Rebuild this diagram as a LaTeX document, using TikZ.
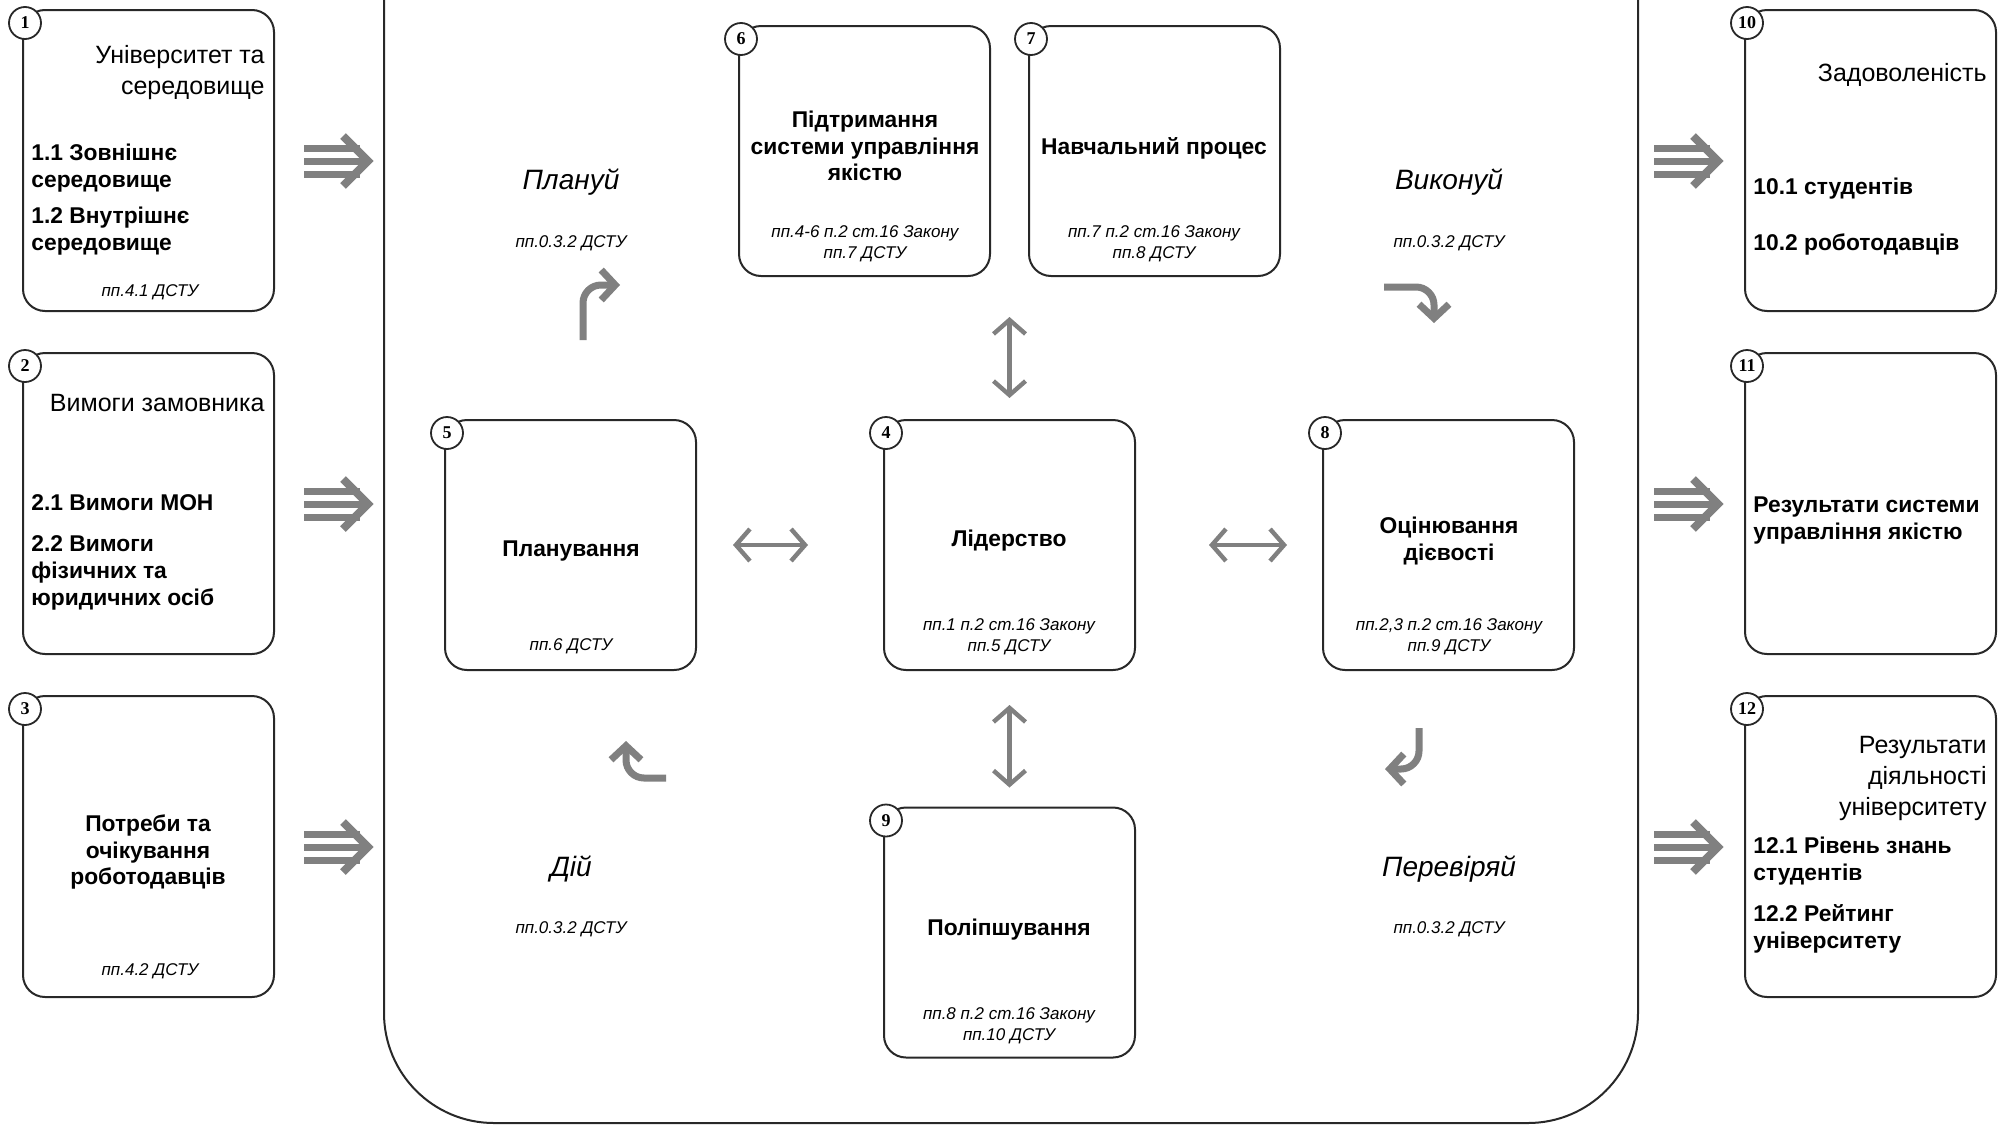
\documentclass[tikz,border=0pt]{standalone}
\usepackage{fontspec}
\setmainfont{Liberation Sans}
\newfontfamily\numfont{Liberation Serif}
\usetikzlibrary{arrows.meta}
\definecolor{arrgray}{RGB}{128,128,128}
\definecolor{linedark}{RGB}{40,40,40}
\begin{document}
\begin{tikzpicture}[x=0.5pt,y=-0.5pt,
  box/.style={draw=linedark, line width=1pt, rounded corners=11pt, minimum width=125.5pt, inner sep=0pt, outer sep=0pt},
  outerbox/.style={box, minimum height=150.5pt},
  innerbox/.style={box, minimum height=125pt},
  numc/.style={circle, draw=linedark, fill=white, line width=0.9pt, minimum size=16pt, inner sep=0pt, font=\numfont\bfseries\fontsize{9}{10}\selectfont},
  headtxt/.style={font=\fontsize{12.5}{15.5}\selectfont, align=right, inner sep=0pt, anchor=east},
  itemtxt/.style={font=\bfseries\fontsize{11.4}{13.5}\selectfont, align=left, inner sep=0pt, anchor=west},
  titletxt/.style={font=\bfseries\fontsize{11.4}{13.3}\selectfont, align=center, inner sep=0pt},
  reftxt/.style={font=\itshape\fontsize{8.5}{10.3}\selectfont, align=center, inner sep=0pt},
  pdcatxt/.style={font=\itshape\fontsize{14}{16}\selectfont, inner sep=0pt},
  dblarr/.style={draw=arrgray, line width=2.2pt, {Straight Barb[length=7pt,width=16pt]}-{Straight Barb[length=7pt,width=16pt]}},
  bendarr/.style={draw=arrgray, line width=3.5pt, rounded corners=9pt, -{Straight Barb[length=7pt,width=15pt]}},
  tri/.pic={
    \draw[arrgray, line width=3.5pt] (0,-13) -- (56,-13) (0,0) -- (60,0) (0,13) -- (56,13);
    \draw[arrgray, line width=4pt] (39,-25) -- (64,0) -- (39,25);
  }
]
\useasboundingbox (0,0) rectangle (2006,1125);
\fill[white] (0,0) rectangle (2006,1125);
\begin{scope}
  \clip (0,0) rectangle (2006,1125);
  \draw[draw=linedark, line width=1pt, rounded corners=55pt] (384,-150) rectangle (1638,1123);
\end{scope}

% boxes
\node[outerbox] (b1) at (148.5,160.5) {};
\node[outerbox] (b2) at (148.5,503.5) {};
\node[outerbox] (b3) at (148.5,846.5) {};
\node[outerbox] (b10) at (1870.5,160.5) {};
\node[outerbox] (b11) at (1870.5,503.5) {};
\node[outerbox] (b12) at (1870.5,846.5) {};
\node[innerbox] (b6) at (864.5,151) {};
\node[innerbox] (b7) at (1154.5,151) {};
\node[innerbox] (b5) at (570.5,545) {};
\node[innerbox] (b4) at (1009.5,545) {};
\node[innerbox] (b8) at (1448.5,545) {};
\node[innerbox] (b9) at (1009.5,932.5) {};

\foreach \b/\n in {b1/1,b2/2,b3/3,b4/4,b5/5,b6/6,b7/7,b8/8,b9/9,b10/10,b11/11,b12/12}
  \node[numc] (c\n) at ([shift={(2,13)}]\b.north west) {\n};

% box 1
\node[headtxt] (t1h) at (265,73) {Університет та\\середовище};
\node[itemtxt] (t1a) at (31,168) {1.1 Зовнішнє\\середовище};
\node[itemtxt] (t1b) at (31,231) {1.2 Внутрішнє\\середовище};
\node[reftxt] (t1r) at (150,292) {пп.4.1 ДСТУ};
% box 2
\node[headtxt] (t2h) at (265,403) {Вимоги замовника};
\node[itemtxt] (t2a) at (31,503) {2.1 Вимоги МОН};
\node[itemtxt] (t2b) at (31,573) {2.2 Вимоги\\фізичних та\\юридичних осіб};
% box 3
\node[titletxt] (t3) at (148,852) {Потреби та\\очікування\\роботодавців};
\node[reftxt] (t3r) at (150,971) {пп.4.2 ДСТУ};
% box 10
\node[headtxt] (t10h) at (1987,75) {Задоволеність};
\node[itemtxt] (t10a) at (1753,189) {10.1 студентів};
\node[itemtxt] (t10b) at (1753,244) {10.2 роботодавців};
% box 11
\node[itemtxt] (t11) at (1753,521) {Результати системи\\управління якістю};
% box 12
\node[headtxt] (t12h) at (1987,778) {Результати\\діяльності\\університету};
\node[itemtxt] (t12a) at (1753,861) {12.1 Рівень знань\\студентів};
\node[itemtxt] (t12b) at (1753,929) {12.2 Рейтинг\\університету};

% inner boxes
\node[titletxt] (t6) at (865,146) {Підтримання\\системи управління\\якістю};
\node[reftxt] (t6r) at (865,244) {пп.4-6 п.2 ст.16 Закону\\пп.7 ДСТУ};
\node[titletxt] (t7) at (1154,148) {Навчальний процес};
\node[reftxt] (t7r) at (1154,244) {пп.7 п.2 ст.16 Закону\\пп.8 ДСТУ};
\node[titletxt] (t5) at (571,551) {Планування};
\node[reftxt] (t5r) at (571,646) {пп.6 ДСТУ};
\node[titletxt] (t4) at (1009,541) {Лідерство};
\node[reftxt] (t4r) at (1009,637) {пп.1 п.2 ст.16 Закону\\пп.5 ДСТУ};
\node[titletxt] (t8) at (1449,541) {Оцінювання\\дієвості};
\node[reftxt] (t8r) at (1449,637) {пп.2,3 п.2 ст.16 Закону\\пп.9 ДСТУ};
\node[titletxt] (t9) at (1009,930) {Поліпшування};
\node[reftxt] (t9r) at (1009,1026) {пп.8 п.2 ст.16 Закону\\пп.10 ДСТУ};

% PDCA labels
\node[pdcatxt, anchor=base] (pP) at (571,189) {Плануй};
\node[reftxt, anchor=base] (pPr) at (571,247) {пп.0.3.2 ДСТУ};
\node[pdcatxt, anchor=base] (pD) at (1449,189) {Виконуй};
\node[reftxt, anchor=base] (pDr) at (1449,247) {пп.0.3.2 ДСТУ};
\node[pdcatxt, anchor=base] (pA) at (571,876) {Дій};
\node[reftxt, anchor=base] (pAr) at (571,933) {пп.0.3.2 ДСТУ};
\node[pdcatxt, anchor=base] (pC) at (1449,876) {Перевіряй};
\node[reftxt, anchor=base] (pCr) at (1449,933) {пп.0.3.2 ДСТУ};

% triple arrows
\foreach \y in {161,504,847} {
  \pic at (304,\y) {tri};
  \pic at (1654,\y) {tri};
}

% double arrows
\coordinate (top67) at (1009.5,276);
\draw[dblarr, shorten <=18.5pt, shorten >=38pt] (b5.east) -- (b4.west);
\draw[dblarr, shorten <=37pt, shorten >=18pt] (b4.east) -- (b8.west);
\draw[dblarr, shorten <=11pt, shorten >=20.5pt] (b4.north) -- (top67);
\draw[dblarr, shorten <=17.5pt, shorten >=10pt] (b4.south) -- (b9.north);

% bent arrows
\coordinate (pa1) at (583,340); \coordinate (pa2) at (620,285);
\draw[bendarr] (pa1) |- (pa2);
\coordinate (da1) at (1384,287); \coordinate (da2) at (1434,323);
\draw[bendarr] (da1) -| (da2);
\coordinate (ca1) at (1419,728); \coordinate (ca2) at (1385,769);
\draw[bendarr] (ca1) |- (ca2);
\coordinate (aa1) at (666,778); \coordinate (aa2) at (626,741);
\draw[bendarr] (aa1) -| (aa2);
\end{tikzpicture}
\end{document}
